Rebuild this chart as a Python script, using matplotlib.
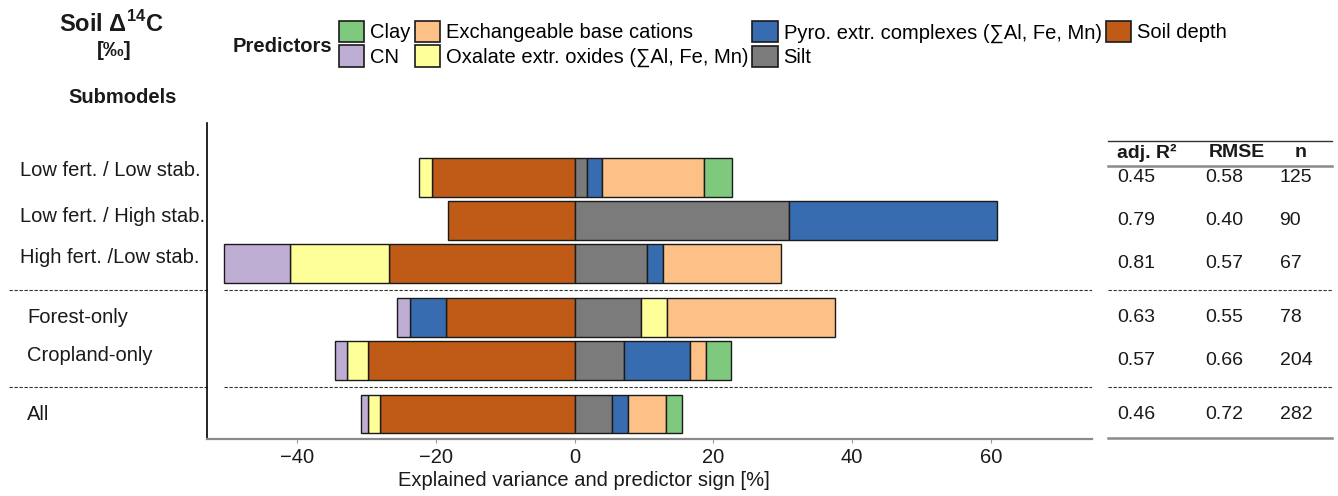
import numpy as np
import matplotlib.pyplot as plt
import matplotlib.transforms as mtransforms
from matplotlib.patches import Patch

plt.rcParams['font.family'] = ['Liberation Sans', 'DejaVu Sans']
plt.rcParams['mathtext.fontset'] = 'custom'
plt.rcParams['mathtext.rm'] = 'Liberation Sans'
plt.rcParams['mathtext.bf'] = 'Liberation Sans:bold'

# submodels, grouped (stratified / land use / all data)
submodels = ['Low fert. / Low stab.', 'Low fert. / High stab.', 'High fert. /Low stab.',
             'Forest-only', 'Cropland-only', 'All']
group_sizes = [3, 2, 1]

# explained variance [%], sign = direction of the predictor effect
predictors = ['Clay', 'CN', 'Exchangeable base cations', 'Oxalate extr. oxides (∑Al, Fe, Mn)',
              'Pyro. extr. complexes (∑Al, Fe, Mn)', 'Silt', 'Soil depth']
clay = [4.1, 0, 0, 0, 3.6, 2.3]
cn = [0, 0, -9.4, -1.9, -1.8, -1.0]
exch_cations = [14.6, 0, 17.0, 24.3, 2.4, 5.5]
oxalate_oxides = [-1.9, 0, -14.4, 3.7, -3.0, -1.8]
pyro_complexes = [2.2, 30.0, 2.4, -5.2, 9.5, 2.3]
silt = [1.8, 30.9, 10.4, 9.6, 7.1, 5.4]
soil_depth = [-20.6, -18.3, -26.7, -18.5, -29.8, -28.0]

# model performance
adj_r2 = [0.45, 0.79, 0.81, 0.63, 0.57, 0.46]
rmse = [0.58, 0.40, 0.57, 0.55, 0.66, 0.72]
n_obs = [125, 90, 67, 78, 204, 282]

colors = ['#7fc97f', '#beaed4', '#fdc086', '#ffff99', '#386cb0', '#7b7b7b', '#bf5b17']
values = [clay, cn, exch_cations, oxalate_oxides, pyro_complexes, silt, soil_depth]

W, H = 1338, 496
FS = 14.5
TXT = '#1a1a1a'


def px(x, y):
    return x / W, 1 - y / H


# row positions with a small gap between groups
ypos, seps = [], []
y = 0.0
for k, size in enumerate(group_sizes):
    if k > 0:
        y += 0.25
        seps.append((ypos[-1] + y) / 2)
    for i in range(size):
        ypos.append(y)
        y += 1
ypos = np.array(ypos)

fig = plt.figure(figsize=(W / 100, H / 100), dpi=100)
ax = fig.add_axes([207 / W, 1 - 439 / H, 885 / W, 316 / H])

# stacked bars, positive and negative parts stacked separately
pos = np.zeros(len(submodels))
neg = np.zeros(len(submodels))
for name, col, vals in reversed(list(zip(predictors, colors, values))):
    vals = np.array(vals, dtype=float)
    left = np.where(vals >= 0, pos, neg)
    m = vals != 0
    ax.barh(ypos[m], vals[m], left=left[m], height=0.9, color=col,
            edgecolor=TXT, linewidth=1.0)
    pos += np.clip(vals, 0, None)
    neg += np.clip(vals, None, 0)

xmin, xmax = -53.0, 74.6
ax.set_xlim(xmin, xmax)
ax.set_ylim(ypos[-1] + 0.58, -1.26)

for s in ['top', 'right']:
    ax.spines[s].set_visible(False)
ax.spines['left'].set_color('black')
ax.spines['left'].set_linewidth(1.2)
ax.spines['bottom'].set_color('#8a8a8a')
ax.spines['bottom'].set_linewidth(1.6)
ax.set_yticks([])
ax.set_xticks([-40, -20, 0, 20, 40, 60])
ax.tick_params(axis='x', length=3, width=0.8, color='#9a9a9a', labelsize=FS,
               labelcolor=TXT, pad=3.5)

ax.set_xlabel('Explained variance and predictor sign [%]', fontsize=FS, color=TXT)
ax.xaxis.label.set_va('center')
ax.xaxis.set_label_coords((584 - 207) / 885, -(481 - 439) / 316)

blend_fig = mtransforms.blended_transform_factory(fig.transFigure, ax.transData)
blend_ax = mtransforms.blended_transform_factory(ax.transAxes, ax.transData)

# submodel names on the left
label_x = [20, 20, 20, 27, 27, 27]
label_dy = [-0.16, -0.08, -0.14, 0, -0.1, 0]
for lab, lx, dy, yy in zip(submodels, label_x, label_dy, ypos):
    ax.text(lx / W, yy + dy, lab, transform=blend_fig, ha='left', va='center',
            fontsize=FS, color=TXT)

# dashed separators between the groups
dash = (0, (3, 1.5))
for s in seps:
    ax.plot([-0.224, 0], [s, s], transform=blend_ax, clip_on=False,
            color='#333333', lw=0.8, ls=dash)
    ax.plot([neg.min(), xmax], [s, s], color='#333333', lw=0.8, ls=dash)
    ax.plot([1.018, 1.271], [s, s], transform=blend_ax, clip_on=False,
            color='#333333', lw=0.8, ls=dash)

# performance table on the right
tx0, tx1 = 1.018, 1.271
ax.plot([tx0, tx1], [-0.84, -0.84], transform=blend_ax, clip_on=False, color='#333333', lw=1.0)
ax.plot([tx0, tx1], [-0.26, -0.26], transform=blend_ax, clip_on=False, color='#8a8a8a', lw=1.8)
ax.plot([tx0, tx1], [ypos[-1] + 0.56, ypos[-1] + 0.56], transform=blend_ax, clip_on=False,
        color='#8a8a8a', lw=1.8)
for head, hx in zip(['adj. R²', 'RMSE', 'n'], [1.062, 1.164, 1.236]):
    ax.text(hx, -0.57, head, transform=blend_ax, ha='center', va='center',
            fontsize=14, fontweight='bold', color=TXT)
for r, e, n, yy in zip(adj_r2, rmse, n_obs, ypos):
    ax.text(1.028, yy, f'{r:.2f}', transform=blend_ax, ha='left', va='center', fontsize=14, color=TXT)
    ax.text(1.128, yy, f'{e:.2f}', transform=blend_ax, ha='left', va='center', fontsize=14, color=TXT)
    ax.text(1.212, yy, f'{n}', transform=blend_ax, ha='left', va='center', fontsize=14, color=TXT)

# header: response, legend title, row title
fig.text(*px(111.5, 24), 'Soil Δ$^{\\mathbf{14}}$C', ha='center', va='center',
         fontsize=17, fontweight='bold', color=TXT)
fig.text(*px(114, 50), '[‰]', ha='center', va='center', fontsize=15, fontweight='bold', color=TXT)
fig.text(*px(122.5, 97.5), 'Submodels', ha='center', va='center', fontsize=FS,
         fontweight='bold', color=TXT)
fig.text(*px(233, 46.7), 'Predictors', ha='left', va='center', fontsize=FS,
         fontweight='bold', color=TXT)

handles = [Patch(facecolor=c, edgecolor=TXT, linewidth=1.2, label=p)
           for p, c in zip(predictors, colors)]
fig.legend(handles=handles, ncol=4, loc='upper left', bbox_to_anchor=px(339, 21),
           frameon=False, borderpad=0, borderaxespad=0, fontsize=FS,
           handlelength=1.25, handleheight=1.25, handletextpad=0.3,
           columnspacing=0.2, labelspacing=0.15)

fig.savefig('out.png', dpi=100)
